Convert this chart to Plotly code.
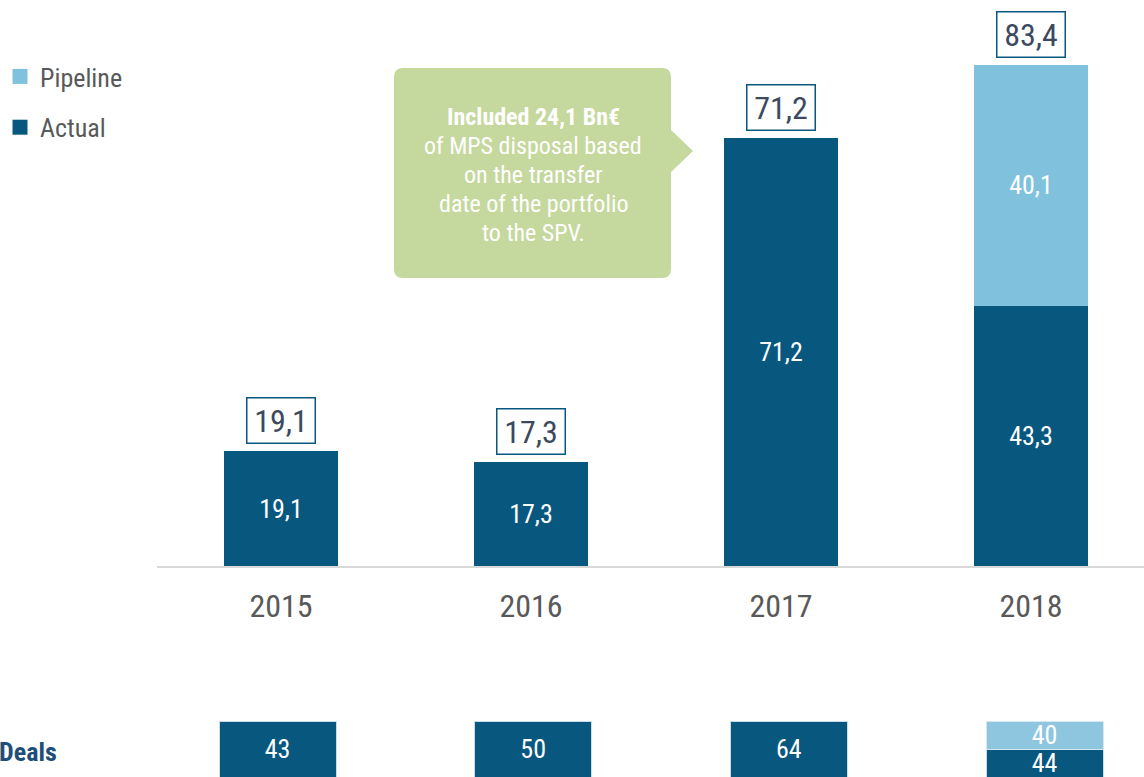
import plotly.graph_objects as go

years = ["2015", "2016", "2017", "2018"]
actual = [19.1, 17.3, 71.2, 43.3]
pipeline = [None, None, None, 40.1]
totals = [19.1, 17.3, 71.2, 83.4]
deals_actual = [43, 50, 64, 44]
deals_pipeline = [None, None, None, 40]
callout_lines = ["<b>Included 24,1 Bn€</b>", "of MPS disposal based", "on the transfer",
                 "date of the portfolio", "to the SPV."]

DARK = "#08577f"
LIGHT = "#80c2de"
DLIGHT = "#8ec6df"
GREEN = "#c5d89d"
FONT = "Roboto Condensed, Liberation Sans Narrow, Roboto, sans-serif"

W, H = 1144, 777
def px(x): return x / W
def py(y): return 1 - y / H

fig = go.Figure()
fig.add_trace(go.Bar(x=years, y=actual, name="Actual", marker=dict(color=DARK, line=dict(width=0)),
                     width=0.456, texttemplate="%{y:.1f}", textposition="inside",
                     insidetextanchor="middle", textfont=dict(color="white", size=26, family=FONT),
                     showlegend=False, xaxis="x", yaxis="y"))
fig.add_trace(go.Bar(x=years, y=pipeline, name="Pipeline", marker=dict(color=LIGHT, line=dict(width=0)),
                     width=0.456, texttemplate="%{y:.1f}", textposition="inside",
                     insidetextanchor="middle", textfont=dict(color="white", size=26, family=FONT),
                     showlegend=False, xaxis="x", yaxis="y"))
# legend entries
fig.add_trace(go.Scatter(x=[None], y=[None], mode="markers", name="Pipeline", legendgroup="p",
                         marker=dict(symbol="square", size=15, color=LIGHT), legendrank=1,
                         xaxis="x", yaxis="y"))
fig.add_trace(go.Scatter(x=[None], y=[None], mode="markers", name="Actual", legendgroup="a",
                         marker=dict(symbol="square", size=15, color=DARK), legendrank=2,
                         xaxis="x", yaxis="y"))

# deals row
n = len(years)
d_act_h = [0.5 if deals_pipeline[i] is not None else 1 for i in range(n)]
d_pip_h = [0.5 if deals_pipeline[i] is not None else None for i in range(n)]
fig.add_trace(go.Bar(x=years, y=d_act_h, text=[str(v) for v in deals_actual], textposition="inside",
                     insidetextanchor="middle", textangle=0, constraintext="none",
                     textfont=dict(color="white", size=26, family=FONT),
                     marker=dict(color=DARK, line=dict(color="#c9dbe6", width=1)), width=0.4576,
                     showlegend=False, xaxis="x2", yaxis="y2", hoverinfo="skip"))
fig.add_trace(go.Bar(x=years, y=d_pip_h,
                     text=[str(v) if v is not None else "" for v in deals_pipeline], textposition="inside",
                     insidetextanchor="middle", textangle=0, constraintext="none",
                     textfont=dict(color="white", size=26, family=FONT),
                     marker=dict(color=DLIGHT, line=dict(color="#d6e9f2", width=1)), width=0.4576,
                     showlegend=False, xaxis="x2", yaxis="y2", hoverinfo="skip"))

xr = [(157 - 281) / 250, (1144 - 281) / 250]
xr2 = [(157 - 277.5) / 255.7, (1144 - 277.5) / 255.7]
annotations = []
for i, t in enumerate(totals):
    annotations.append(dict(x=i, y=t, xref="x", yref="y", text=f"{t:.1f}".replace(".", ","),
                            showarrow=False, yanchor="bottom", yshift=7, width=65, height=42,
                            bordercolor=DARK, borderwidth=1.5, borderpad=1, bgcolor="white",
                            font=dict(size=32, color="#3b4a5e", family=FONT)))
for i, line in enumerate(callout_lines):
    annotations.append(dict(x=px(533), y=py(117 + 29 * i), xref="paper", yref="paper", text=line,
                            showarrow=False, xanchor="center", yanchor="middle",
                            font=dict(size=24, color="white", family=FONT)))
annotations.append(dict(x=px(59), y=py(752), xref="paper", yref="paper", text="<b>Deals</b>",
                        showarrow=False, xanchor="right", yanchor="middle",
                        font=dict(size=26, color="#1f4e79", family=FONT)))

# callout shape (rounded rect with pointer)
x0, x1, y0, y1, r = 394, 671, 68, 278, 9
pts = [
    ("M", x0 + r, y0), ("L", x1 - r, y0), ("Q", x1, y0, x1, y0 + r), ("L", x1, 130),
    ("L", 693, 151), ("L", x1, 172), ("L", x1, y1 - r), ("Q", x1, y1, x1 - r, y1),
    ("L", x0 + r, y1), ("Q", x0, y1, x0, y1 - r), ("L", x0, y0 + r), ("Q", x0, y0, x0 + r, y0),
]
path = ""
for p in pts:
    cmd = p[0]
    coords = p[1:]
    s = []
    for j in range(0, len(coords), 2):
        s.append(f"{px(coords[j]):.5f},{py(coords[j+1]):.5f}")
    path += cmd + " ".join(s) + " "
path += "Z"
shapes = [dict(type="path", path=path, xref="paper", yref="paper", fillcolor=GREEN,
               line=dict(width=0), layer="above")]

fig.update_layout(
    width=W, height=H, margin=dict(l=0, r=0, t=0, b=0),
    paper_bgcolor="white", plot_bgcolor="white", barmode="stack", separators=",.",
    font=dict(family=FONT, color="#595959"),
    showlegend=True,
    legend=dict(x=0.0, y=py(53), xanchor="left", yanchor="top", font=dict(size=26, color="#595959"),
                tracegroupgap=14, bgcolor="rgba(0,0,0,0)", itemwidth=30, traceorder="grouped"),
    xaxis=dict(type="category", domain=[px(157), 1], range=xr, showgrid=False, showline=True,
               linecolor="#d9d9d9", linewidth=2, ticks="",
               tickfont=dict(size=32, color="#595959", family=FONT),
               ticklabelstandoff=11, zeroline=False),
    yaxis=dict(domain=[py(566), 1], range=[0, 566 / 6.007], visible=False),
    xaxis2=dict(type="category", domain=[px(157), 1], range=xr2, visible=False, anchor="y2"),
    yaxis2=dict(domain=[0, py(721)], range=[0, 1], visible=False, anchor="x2"),
    annotations=annotations, shapes=shapes,
)
fig.write_html("out.html", config={"displayModeBar": False},
               post_script="document.body.style.margin='0';")
